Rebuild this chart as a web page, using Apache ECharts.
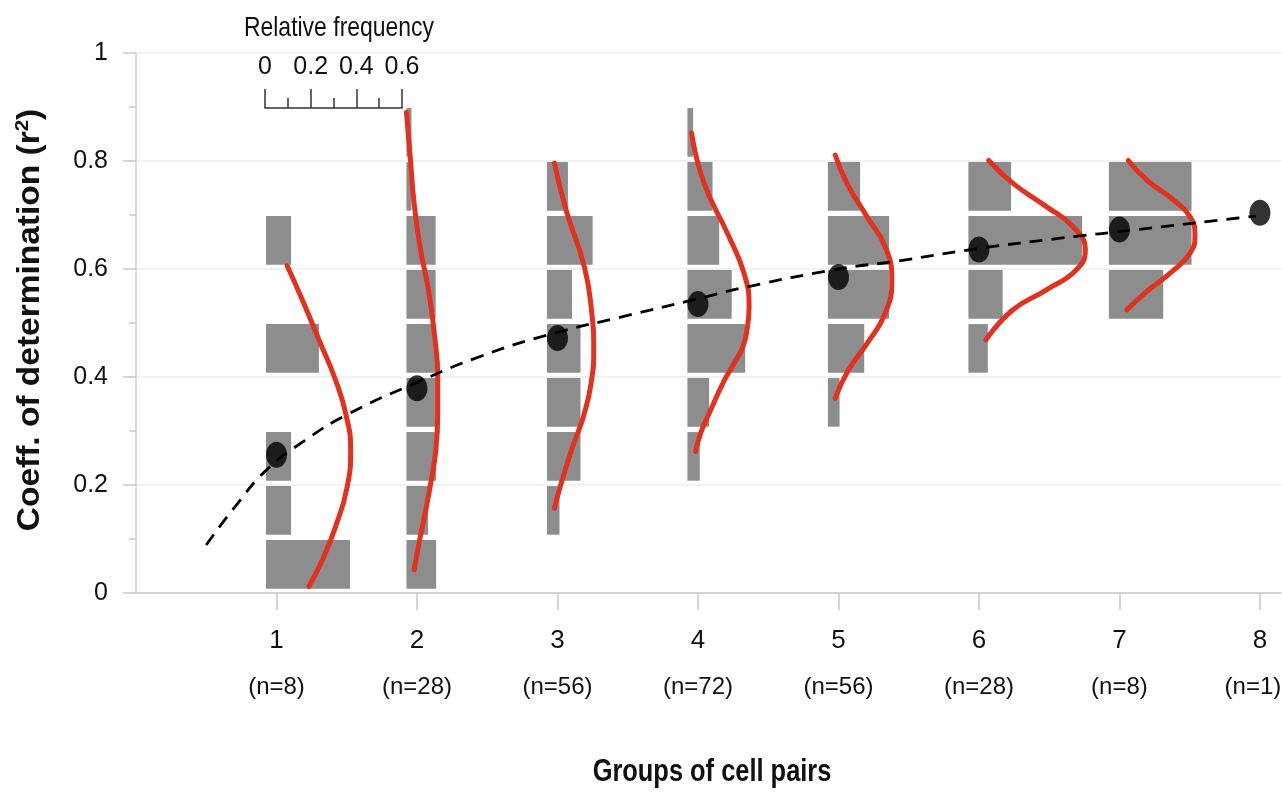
<!DOCTYPE html>
<html>
<head>
<meta charset="utf-8">
<script src="https://cdn.jsdelivr.net/npm/echarts@6/dist/echarts.min.js"></script>
<style>
html,body{margin:0;padding:0;background:#fff;overflow:hidden;width:1282px;height:794px;}
#chart{width:1282px;height:794px;}
</style>
</head>
<body>
<div id="chart"></div>
<script>
// ---- data ----
var groups = [1, 2, 3, 4, 5, 6, 7, 8];
var groupN = [8, 28, 56, 72, 56, 28, 8, 1];
var meanR2 = [0.256, 0.379, 0.472, 0.535, 0.585, 0.636, 0.673, 0.704];

// histograms: [bin lower edge, relative frequency]
var hist1 = [[0.0,0.368],[0.1,0.11],[0.2,0.11],[0.4,0.232],[0.6,0.11]];
var hist2 = [[0.0,0.13],[0.1,0.095],[0.2,0.13],[0.3,0.13],[0.4,0.128],[0.5,0.128],[0.6,0.128],[0.7,0.022],[0.8,0.022]];
var hist3 = [[0.1,0.055],[0.2,0.147],[0.3,0.147],[0.4,0.147],[0.5,0.11],[0.6,0.2],[0.7,0.092]];
var hist4 = [[0.2,0.054],[0.3,0.095],[0.4,0.253],[0.5,0.194],[0.6,0.139],[0.7,0.11],[0.8,0.025]];
var hist5 = [[0.3,0.051],[0.4,0.159],[0.5,0.268],[0.6,0.268],[0.7,0.141]];
var hist6 = [[0.4,0.085],[0.5,0.15],[0.6,0.498],[0.7,0.187]];
var hist7 = [[0.5,0.238],[0.6,0.362],[0.7,0.362]];
var hist8 = [];

// fitted distribution curves: [r2, relative frequency]
var curve1 = [[0.606,0.093],[0.543,0.159],[0.469,0.232],[0.394,0.305],[0.333,0.349],[0.265,0.371],[0.197,0.356],[0.123,0.305],[0.061,0.247],[0.012,0.188]];
var curve2 = [[0.89,0.0],[0.80,0.018],[0.72,0.034],[0.64,0.06],[0.56,0.097],[0.481,0.122],[0.40,0.137],[0.33,0.137],[0.265,0.129],[0.20,0.105],[0.14,0.078],[0.09,0.054],[0.043,0.034]];
var curve3 = [[0.796,0.033],[0.709,0.084],[0.604,0.164],[0.52,0.196],[0.45,0.205],[0.385,0.192],[0.33,0.162],[0.295,0.134],[0.265,0.108],[0.204,0.063],[0.157,0.033]];
var curve4 = [[0.852,0.018],[0.759,0.073],[0.666,0.175],[0.592,0.248],[0.53,0.27],[0.49,0.262],[0.456,0.243],[0.425,0.204],[0.394,0.162],[0.339,0.102],[0.296,0.058],[0.262,0.036]];
var curve5 = [[0.811,0.032],[0.759,0.083],[0.697,0.171],[0.641,0.251],[0.58,0.28],[0.518,0.251],[0.462,0.171],[0.413,0.09],[0.361,0.032]];
var curve6 = [[0.801,0.089],[0.759,0.194],[0.716,0.34],[0.679,0.457],[0.635,0.512],[0.598,0.472],[0.561,0.34],[0.524,0.194],[0.469,0.077]];
var curve7 = [[0.801,0.085],[0.765,0.165],[0.728,0.282],[0.697,0.355],[0.663,0.377],[0.629,0.355],[0.592,0.267],[0.558,0.165],[0.524,0.078]];

// dashed trend line: x (group) and r2
var trendX = [0.5, 0.7, 0.93, 1.2, 1.5, 2.0, 2.45, 2.92, 3.5, 4.0, 4.35, 5.0, 5.4, 6.0, 6.58, 7.13, 7.83, 7.97];
var trendY = [0.089, 0.158, 0.228, 0.282, 0.33, 0.39, 0.438, 0.477, 0.514, 0.545, 0.567, 0.600, 0.614, 0.638, 0.657, 0.673, 0.694, 0.698];

var freqTicks = [0, 0.2, 0.4, 0.6];

// ---- layout helpers ----
var BASE_OFF = -0.075;          // bars start slightly left of the group tick
var FREQ_SCALE = 1.625;         // x-units per 1.0 relative frequency
var BIN = 0.1;

var hists = [hist1, hist2, hist3, hist4, hist5, hist6, hist7, hist8];
var curves = [curve1, curve2, curve3, curve4, curve5, curve6, curve7];

var barData = [];
hists.forEach(function (h, gi) {
  h.forEach(function (b) { barData.push([groups[gi], b[0], b[1]]); });
});

var FONT = "'Liberation Sans',Arial,sans-serif";

var series = [];
series.push({
  type: 'custom',
  xAxisIndex: 0, yAxisIndex: 0,
  data: barData,
  z: 2,
  renderItem: function (params, api) {
    var g = api.value(0), lo = api.value(1), f = api.value(2);
    var x0 = g + BASE_OFF;
    var p0 = api.coord([x0, lo + BIN - 0.002]);
    var p1 = api.coord([x0 + f * FREQ_SCALE, lo + 0.008]);
    return {
      type: 'rect',
      shape: { x: p0[0], y: p0[1], width: p1[0] - p0[0], height: p1[1] - p0[1] },
      style: { fill: '#8d8d8d' }
    };
  }
});

curves.forEach(function (c, gi) {
  series.push({
    type: 'line',
    xAxisIndex: 0, yAxisIndex: 0,
    data: c.map(function (p) { return [groups[gi] + BASE_OFF + p[1] * FREQ_SCALE, p[0]]; }),
    smooth: 0.5,
    symbol: 'none',
    z: 3,
    lineStyle: { color: '#e2321f', width: 5, cap: 'round' }
  });
});

series.push({
  type: 'line',
  xAxisIndex: 0, yAxisIndex: 0,
  data: trendX.map(function (x, i) { return [x, trendY[i]]; }),
  smooth: 0.5,
  symbol: 'none',
  z: 4,
  lineStyle: { color: '#000', width: 2.8, type: [13, 9] }
});

series.push({
  type: 'scatter',
  xAxisIndex: 0, yAxisIndex: 0,
  data: groups.map(function (g, i) { return [g, meanR2[i]]; }),
  symbol: 'circle',
  symbolSize: [21, 26],
  z: 5,
  itemStyle: { color: '#000' }
});

// dummy series for the inset frequency scale axis
series.push({
  type: 'line', xAxisIndex: 1, yAxisIndex: 1, data: [], silent: true
});

var chart = echarts.init(document.getElementById('chart'), null, { renderer: 'canvas', width: 1282, height: 794 });
chart.setOption({
  animation: false,
  backgroundColor: '#fff',
  grid: [
    { left: 136, top: 53, width: 1145, height: 540, containLabel: false, outerBoundsMode: 'none' },
    { left: 265, top: 107, width: 137, height: 1, containLabel: false, outerBoundsMode: 'none' }
  ],
  xAxis: [{
    type: 'value', gridIndex: 0,
    min: 0, max: 8.15, interval: 1,
    axisLine: { show: true, lineStyle: { color: '#c8c8c8', width: 1.5 } },
    axisTick: { show: true, length: 17, lineStyle: { color: '#c8c8c8', width: 1.5 },
      customValues: groups },
    splitLine: { show: false },
    axisLabel: {
      show: true, margin: 24,
      customValues: groups,
      formatter: function (v) {
        var i = groups.indexOf(Math.round(v));
        if (i < 0 || Math.abs(v - groups[i]) > 1e-6) return '';
        var st = (i === groups.length - 1) ? 'c' : 'b';
        return '{a|' + groups[i] + '}\n{' + st + '|(n=' + groupN[i] + ')}';
      },
      rich: {
        a: { fontFamily: FONT, fontSize: 26, lineHeight: 48, color: '#111' },
        b: { fontFamily: FONT, fontSize: 24, lineHeight: 44, color: '#111' },
        c: { fontFamily: FONT, fontSize: 24, lineHeight: 44, color: '#111', padding: [0, 14, 0, 0] }
      }
    }
  }, {
    type: 'value', gridIndex: 1, position: 'top',
    min: 0, max: 0.6, interval: 0.2,
    axisLine: { show: true, lineStyle: { color: '#333', width: 1.5 } },
    axisTick: { show: true, length: 19, lineStyle: { color: '#333', width: 1.5 } },
    minorTick: { show: true, splitNumber: 2, length: 10, lineStyle: { color: '#333', width: 1.5 } },
    splitLine: { show: false },
    minorSplitLine: { show: false },
    axisLabel: {
      show: true, margin: 27, color: '#111', fontFamily: FONT, fontSize: 25,
      customValues: freqTicks,
      formatter: function (v) { return String(Math.round(v * 10) / 10); }
    }
  }],
  yAxis: [{
    type: 'value', gridIndex: 0,
    min: 0, max: 1, interval: 0.2,
    axisLine: { show: true, lineStyle: { color: '#d0d0d0', width: 1.5 } },
    axisTick: { show: true, length: 13, lineStyle: { color: '#c8c8c8', width: 1.5 } },
    minorTick: { show: true, splitNumber: 2, length: 7, lineStyle: { color: '#c8c8c8', width: 1.5 } },
    splitLine: { show: true, lineStyle: { color: '#ededed', width: 1.5 } },
    axisLabel: {
      margin: 28, color: '#111', fontFamily: FONT, fontSize: 25,
      formatter: function (v) { return String(Math.round(v * 10) / 10); }
    }
  }, {
    type: 'value', gridIndex: 1, show: false, min: 0, max: 1
  }],
  graphic: [
    {
      type: 'text',
      x: 339, y: 28, scaleX: 0.82,
      style: {
        text: 'Relative frequency',
        font: "28px 'Liberation Sans',Arial,sans-serif",
        fill: '#111', align: 'center', verticalAlign: 'middle'
      }
    },
    {
      type: 'text',
      x: 712, y: 772, scaleX: 0.82,
      style: {
        text: 'Groups of cell pairs',
        font: "bold 31px 'Liberation Sans',Arial,sans-serif",
        fill: '#111', align: 'center', verticalAlign: 'middle'
      }
    },
    {
      type: 'text',
      x: 30, y: 320, scaleX: 1.08,
      rotation: Math.PI / 2,
      style: {
        text: 'Coeff. of determination (r{s|2})',
        rich: { s: { fontSize: 19, fontWeight: 'bold', verticalAlign: 'top', padding: [0, 0, 14, 0] } },
        font: "bold 31px 'Liberation Sans',Arial,sans-serif",
        fill: '#111',
        align: 'center', verticalAlign: 'middle'
      }
    }
  ],
  series: series
});
</script>
</body>
</html>
